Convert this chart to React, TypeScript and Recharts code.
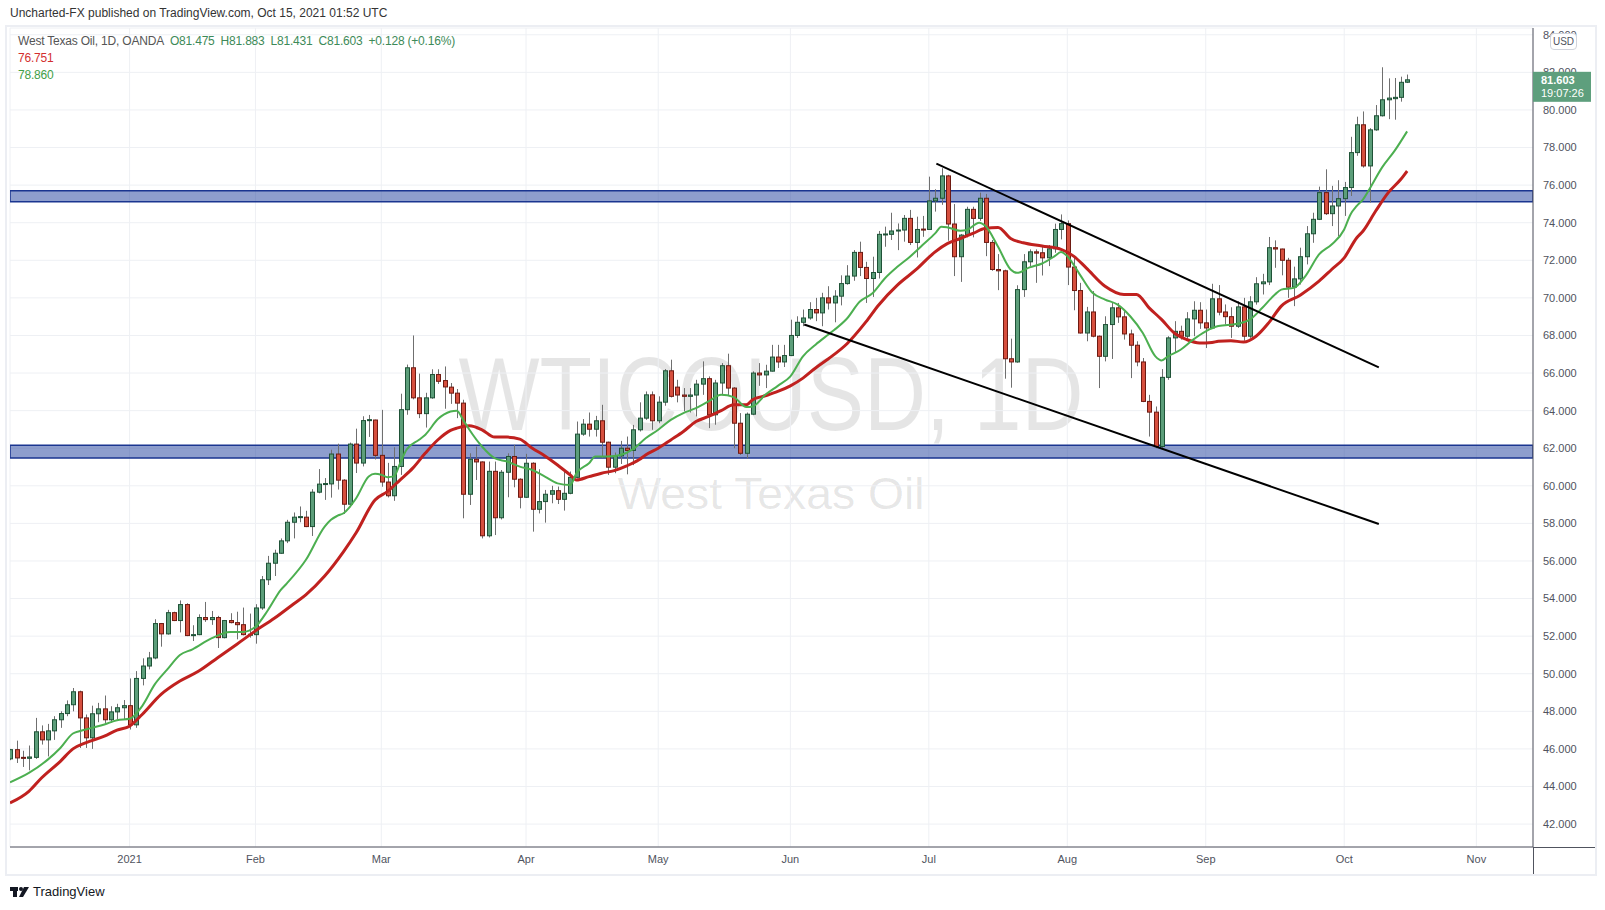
import React from 'react';
import {
  ComposedChart,
  Bar,
  Line,
  XAxis,
  YAxis,
  CartesianGrid,
  ReferenceArea,
  ReferenceLine,
} from 'recharts';

// ---- Daily OHLC (index 0 = first visible bar, early Dec 2020) ----
const opens = [
  45.47, 45.96, 45.55, 45.5, 45.55, 46.91, 46.48, 46.96, 47.55, 47.88,
  48.35, 49.04, 47.65, 46.59, 47.87, 48.13, 47.55, 47.97, 48.19, 48.3,
  47.28, 49.75, 50.41, 50.84, 52.67, 52.12, 53.25, 52.83, 53.68, 52.03,
  52.08, 52.99, 52.88, 52.99, 51.92, 52.83, 52.72, 52.61, 52.08, 52.08,
  53.5, 55.0, 55.88, 56.41, 57.07, 58.06, 58.33, 58.33, 57.83, 59.66,
  60.09, 60.1, 61.69, 60.3, 59.02, 62.22, 61.21, 63.47, 63.5, 61.62,
  60.2, 59.47, 61.03, 64.05, 66.28, 64.68, 63.84, 64.68, 65.92, 65.6,
  65.25, 64.93, 64.4, 59.55, 61.41, 61.27, 57.34, 60.77, 58.3, 60.72,
  61.56, 60.35, 59.39, 61.2, 58.75, 59.16, 59.55, 59.74, 59.28, 59.6,
  60.45, 62.75, 63.28, 63.01, 63.46, 62.32, 60.99, 61.59, 62.0, 61.88,
  62.98, 63.6, 64.84, 63.46, 64.45, 66.12, 65.25, 64.83, 64.76, 64.83,
  65.41, 65.7, 63.78, 65.47, 66.39, 65.2, 63.33, 61.73, 63.81, 66.0,
  65.9, 66.1, 66.85, 66.59, 66.93, 68.0, 68.7, 68.93, 69.38, 69.2,
  70.0, 69.73, 70.09, 70.76, 71.16, 72.42, 71.62, 71.03, 71.35, 73.38,
  73.38, 73.56, 73.61, 74.23, 72.95, 73.66, 73.64, 75.16, 75.3, 76.49,
  73.93, 72.19, 73.34, 74.71, 74.23, 75.3, 72.95, 71.51, 71.44, 66.76,
  66.59, 70.44, 71.92, 72.45, 72.4, 72.13, 72.61, 73.64, 73.95, 71.64,
  70.39, 68.13, 69.25, 67.96, 66.89, 68.58, 69.47, 68.99, 68.08, 67.48,
  66.59, 64.49, 63.92, 62.09, 65.77, 67.87, 68.22, 67.96, 68.88, 69.34,
  68.67, 68.4, 69.95, 69.25, 69.0, 68.49, 69.52, 67.96, 69.79, 70.75,
  70.85, 72.67, 72.6, 72.0, 70.57, 71.01, 72.19, 73.41, 74.18, 75.6,
  74.48, 74.89, 75.28, 75.87, 77.73, 79.21, 77.02, 78.94, 79.69, 80.54,
  80.6, 80.67, 81.475,
];
const highs = [
  46.0, 46.44, 45.9, 46.18, 47.65, 47.25, 47.33, 47.74, 48.0, 48.58,
  49.24, 49.1, 47.83, 48.3, 48.45, 48.84, 48.27, 48.4, 48.6, 49.75,
  50.14, 50.82, 51.16, 52.9, 52.7, 53.4, 53.3, 53.9, 53.75, 52.58,
  53.16, 53.82, 53.34, 53.08, 52.86, 53.22, 53.3, 53.52, 53.2, 53.7,
  55.2, 56.27, 56.6, 57.2, 58.19, 58.58, 58.9, 58.67, 59.82, 60.89,
  60.41, 61.92, 62.24, 60.35, 62.3, 63.04, 63.7, 63.77, 63.52, 64.04,
  61.22, 62.05, 64.9, 66.45, 68.0, 65.97, 64.95, 66.2, 66.2, 66.35,
  65.47, 65.15, 64.58, 61.73, 62.09, 61.3, 61.29, 61.29, 60.84, 61.73,
  62.18, 60.4, 61.7, 61.25, 60.88, 59.78, 60.0, 59.96, 60.76, 60.76,
  63.42, 63.55, 63.9, 63.72, 64.31, 62.35, 61.77, 62.39, 62.62, 63.24,
  64.44, 65.02, 65.02, 64.76, 66.21, 66.71, 65.64, 65.2, 65.2, 65.64,
  66.62, 65.82, 65.64, 66.53, 67.03, 65.25, 63.87, 63.9, 66.09, 66.53,
  66.44, 67.5, 67.5, 67.5, 68.84, 69.02, 69.38, 69.77, 70.0, 70.27,
  70.62, 70.41, 71.2, 71.74, 72.54, 72.99, 71.92, 72.19, 73.56, 73.79,
  74.53, 73.96, 74.41, 74.68, 74.32, 74.36, 76.45, 75.78, 76.9, 76.55,
  74.99, 73.4, 74.85, 74.85, 75.6, 75.53, 73.08, 72.33, 71.5, 67.83,
  70.67, 72.33, 72.58, 72.58, 72.72, 72.81, 73.95, 74.44, 74.12, 72.13,
  70.8, 69.52, 70.36, 68.0, 69.02, 69.73, 69.73, 69.29, 68.31, 67.69,
  66.8, 64.84, 64.22, 66.21, 67.96, 68.76, 68.52, 69.24, 69.82, 69.77,
  69.38, 70.75, 70.68, 69.65, 69.5, 69.82, 70.0, 70.09, 71.1, 71.28,
  73.24, 73.06, 72.62, 72.13, 71.66, 72.67, 73.82, 74.53, 75.92, 76.84,
  75.96, 76.26, 76.17, 78.57, 79.64, 79.92, 79.03, 80.26, 82.27, 81.68,
  81.7, 81.77, 81.883,
];
const lows = [
  45.4, 45.25, 45.04, 44.86, 45.47, 46.23, 45.6, 46.48, 47.12, 47.74,
  48.0, 46.05, 46.05, 46.0, 47.42, 47.38, 47.38, 47.56, 47.56, 47.03,
  47.12, 49.38, 50.23, 50.77, 51.44, 52.08, 52.8, 52.2, 52.0, 51.74,
  52.05, 52.76, 52.6, 51.37, 51.88, 52.68, 51.83, 52.04, 51.92, 51.6,
  53.4, 54.72, 55.2, 56.38, 56.95, 57.2, 58.06, 57.8, 57.33, 59.6,
  59.25, 59.37, 59.8, 58.5, 58.86, 60.68, 61.03, 62.6, 61.4, 59.95,
  59.38, 59.2, 60.58, 63.78, 64.6, 63.6, 63.1, 64.63, 65.42, 64.1,
  64.36, 63.6, 58.27, 58.98, 60.31, 57.2, 57.25, 57.38, 58.21, 59.39,
  59.92, 58.8, 59.35, 57.56, 58.53, 58.04, 59.07, 59.03, 58.68, 59.55,
  60.4, 62.66, 62.62, 62.62, 61.47, 60.58, 60.67, 61.16, 60.61, 61.1,
  62.89, 63.51, 62.98, 63.33, 64.26, 64.7, 64.44, 63.96, 63.9, 63.69,
  64.84, 63.07, 63.25, 64.84, 64.8, 62.0, 61.64, 61.45, 63.76, 65.32,
  65.2, 66.08, 66.27, 66.32, 66.9, 67.87, 68.49, 68.84, 68.76, 68.49,
  69.38, 68.7, 69.6, 70.7, 70.91, 71.16, 69.73, 70.05, 71.03, 72.72,
  73.08, 72.54, 72.99, 72.81, 72.15, 73.25, 73.61, 74.59, 74.95, 73.04,
  71.16, 70.85, 73.22, 73.22, 74.1, 72.22, 71.44, 70.41, 65.7, 65.22,
  66.55, 70.05, 71.69, 70.8, 71.19, 71.69, 72.4, 73.11, 70.68, 69.34,
  68.1, 67.69, 67.9, 65.2, 66.62, 66.75, 68.67, 67.78, 65.73, 66.36,
  64.45, 62.62, 62.0, 62.0, 65.64, 67.07, 67.78, 67.81, 67.96, 68.35,
  67.33, 68.35, 69.07, 68.58, 67.87, 68.4, 67.72, 67.87, 69.64, 70.18,
  70.68, 71.6, 71.2, 70.0, 69.56, 70.71, 71.78, 72.93, 74.14, 74.41,
  73.82, 73.29, 74.36, 75.42, 77.56, 76.93, 75.07, 78.89, 79.65, 79.51,
  79.48, 80.44, 81.431,
];
const closes = [
  45.96, 45.52, 45.5, 45.57, 46.91, 46.48, 46.96, 47.55, 47.88, 48.35,
  49.04, 47.65, 46.59, 47.87, 48.13, 47.55, 47.97, 48.19, 48.3, 47.28,
  49.75, 50.41, 50.84, 52.67, 52.12, 53.25, 52.83, 53.68, 52.03, 52.08,
  52.99, 52.88, 52.99, 51.92, 52.83, 52.72, 52.61, 52.08, 52.1, 53.5,
  55.0, 55.88, 56.41, 57.07, 58.06, 58.33, 58.36, 57.83, 59.66, 60.09,
  60.12, 61.69, 60.3, 59.02, 62.22, 61.21, 63.47, 63.52, 61.62, 60.2,
  59.47, 61.03, 64.05, 66.28, 64.68, 63.84, 64.68, 65.92, 65.56, 65.26,
  64.93, 64.4, 59.55, 61.41, 61.27, 57.34, 60.77, 58.3, 60.72, 61.56,
  60.35, 59.39, 61.2, 58.75, 59.16, 59.55, 59.74, 59.28, 59.6, 60.45,
  62.75, 63.28, 63.01, 63.46, 62.32, 60.99, 61.59, 62.0, 61.88, 62.98,
  63.6, 64.84, 63.46, 64.45, 66.12, 64.76, 64.83, 64.76, 64.83, 65.41,
  65.7, 63.78, 65.47, 66.39, 65.2, 63.33, 61.73, 63.81, 66.0, 65.9,
  66.1, 66.85, 66.59, 66.93, 68.0, 68.7, 68.93, 69.38, 69.2, 70.0,
  69.73, 70.09, 70.76, 71.16, 72.42, 71.62, 71.03, 71.35, 73.38, 73.4,
  73.56, 73.61, 74.23, 72.95, 73.64, 73.61, 75.16, 75.3, 76.49, 73.93,
  72.19, 73.34, 74.71, 74.23, 75.3, 72.95, 71.51, 71.44, 66.76, 66.59,
  70.44, 71.92, 72.45, 72.38, 72.13, 72.61, 73.64, 73.95, 71.64, 70.39,
  68.13, 69.25, 67.96, 66.89, 68.58, 69.47, 68.99, 68.08, 67.48, 66.59,
  64.49, 63.92, 62.09, 65.77, 67.87, 68.22, 67.96, 68.88, 69.34, 68.67,
  68.4, 69.95, 69.24, 69.0, 68.49, 69.52, 67.96, 69.79, 70.75, 70.85,
  72.67, 72.6, 72.0, 70.57, 71.01, 72.19, 73.41, 74.18, 75.6, 74.48,
  74.89, 75.28, 75.87, 77.73, 79.21, 77.02, 78.94, 79.69, 80.54, 80.63,
  80.67, 81.47, 81.603,
];

// ---- Moving averages: [bar index, value] ----
const greenMA: [number, number][] = [
  [0, 44.22], [3, 44.72], [6, 45.43], [8, 46.05], [10, 46.82], [11, 46.94], [13, 47.12], [15, 47.3],
  [17, 47.53], [19, 47.6], [21, 48.28], [23, 49.43], [25, 50.23], [27, 51.0], [29, 51.3], [32, 51.88],
  [35, 52.22], [37, 52.22], [39, 52.5], [41, 53.39], [43, 54.45], [44, 54.81], [47, 56.05], [50, 57.83],
  [51, 58.19], [52, 58.4], [53, 58.54], [55, 59.34], [57, 60.5], [58, 60.64], [59, 60.59], [60, 60.46],
  [61, 60.5], [62, 61.21], [63, 61.92], [65, 62.45], [66, 62.72], [68, 63.55], [70, 63.95], [71, 64.0],
  [72, 63.51], [73, 62.98], [75, 62.09], [77, 61.47], [79, 61.29], [81, 61.02], [83, 60.84], [85, 60.49],
  [87, 60.13], [89, 60.04], [90, 60.67], [92, 61.2], [93, 61.56], [95, 61.56], [97, 61.64], [99, 61.95],
  [101, 62.53], [103, 62.98], [105, 63.51], [107, 63.87], [109, 64.13], [111, 64.49], [113, 64.84],
  [115, 64.72], [117, 64.19], [118, 64.22], [120, 64.84], [122, 65.32], [124, 65.82], [126, 66.89],
  [128, 67.51], [130, 68.04], [131, 68.3], [133, 68.9], [135, 69.79], [137, 70.23], [139, 71.03],
  [141, 71.65], [143, 72.19], [145, 72.81], [147, 73.43], [148, 73.79], [149, 73.75], [151, 73.57],
  [152, 73.61], [154, 74.0], [155, 73.82], [157, 72.72], [159, 71.51], [160, 71.33], [162, 71.62],
  [164, 71.83], [166, 72.22], [167, 72.44], [168, 72.22], [170, 71.24], [172, 70.27], [174, 69.91],
  [176, 69.64], [178, 69.02], [180, 68.13], [182, 66.89], [183, 66.67], [184, 66.89], [186, 67.24],
  [188, 67.78], [190, 68.22], [192, 68.5], [195, 68.62], [197, 68.84], [199, 69.47], [201, 70.18],
  [202, 70.44], [204, 70.53], [206, 71.24], [208, 72.31], [210, 72.84], [212, 73.64], [213, 74.44],
  [214, 74.89], [215, 75.24], [216, 75.78], [218, 76.93], [220, 77.82], [222, 78.86],
];
const redMA: [number, number][] = [
  [0, 43.12], [3, 43.74], [5, 44.45], [8, 45.34], [10, 46.0], [12, 46.32], [15, 46.68], [17, 47.0],
  [19, 47.21], [21, 47.83], [24, 48.9], [27, 49.61], [30, 50.14], [33, 50.85], [36, 51.56], [39, 52.28],
  [42, 52.95], [45, 53.7], [47, 54.2], [50, 55.2], [53, 56.5], [55, 57.5], [58, 59.25], [60, 59.7],
  [62, 60.32], [64, 60.94], [66, 61.74], [68, 62.45], [70, 62.95], [71, 63.07], [73, 63.19], [75, 62.98],
  [77, 62.59], [79, 62.59], [81, 62.48], [83, 62.0], [85, 61.59], [87, 61.11], [89, 60.58], [90, 60.31],
  [92, 60.49], [94, 60.67], [96, 60.81], [98, 61.06], [100, 61.4], [101, 61.64], [103, 62.0],
  [105, 62.44], [107, 62.89], [109, 63.42], [111, 63.69], [113, 64.0], [115, 64.31], [117, 64.31],
  [118, 64.58], [120, 64.79], [122, 65.02], [124, 65.32], [126, 65.73], [128, 66.27], [130, 66.75],
  [133, 67.56], [136, 68.72], [138, 69.61], [141, 70.68], [144, 71.51], [147, 72.45], [149, 72.9],
  [151, 73.16], [153, 73.43], [155, 73.7], [157, 73.75], [159, 73.16], [161, 72.93], [164, 72.76],
  [167, 72.58], [169, 72.22], [171, 71.6], [174, 70.62], [177, 70.18], [179, 70.18], [181, 69.47],
  [183, 68.84], [185, 68.13], [187, 67.78], [189, 67.6], [191, 67.63], [192, 67.69], [194, 67.72],
  [196, 67.65], [198, 67.96], [200, 68.67], [202, 69.56], [205, 70.14], [208, 70.89], [210, 71.51],
  [212, 72.13], [214, 73.2], [215, 73.56], [217, 74.62], [219, 75.6], [221, 76.31], [222, 76.75],
];

// ---- Axis ticks ----
const monthTickIndex = [19, 39, 59, 82, 103, 124, 146, 168, 190, 212, 233];
const monthTickLabel = ['2021', 'Feb', 'Mar', 'Apr', 'May', 'Jun', 'Jul', 'Aug', 'Sep', 'Oct', 'Nov'];
const priceTicks = [42, 44, 46, 48, 50, 52, 54, 56, 58, 60, 62, 64, 66, 68, 70, 72, 74, 76, 78, 80, 82, 84];

// ---- Drawings: horizontal zones and trend channel (bar index / price) ----
const zoneLow = [61.48, 62.16];
const zoneHigh = [75.12, 75.7];
const upperTrend = [{ x: 147.2, y: 77.14 }, { x: 217.5, y: 66.3 }];
const lowerTrend = [{ x: 126.2, y: 68.58 }, { x: 217.5, y: 57.97 }];

const X_DOMAIN: [number, number] = [0, 242];
const Y_DOMAIN: [number, number] = [40.78, 84.36];

const lastClose = closes[closes.length - 1];

const rows: any[] = opens.map((o, i) => ({
  i,
  o,
  h: highs[i],
  l: lows[i],
  c: closes[i],
  g: undefined as number | undefined,
  r: undefined as number | undefined,
}));
greenMA.forEach(([i, v]) => { rows[i].g = v; });
redMA.forEach(([i, v]) => { rows[i].r = v; });

const FONT = '"Liberation Sans", Arial, sans-serif';

const Candle = (props: any) => {
  const { x, y, width, height, payload } = props;
  if (x == null || y == null || !payload) return null;
  const top = Math.min(y, y + height);
  const bot = Math.max(y, y + height);
  const { o, h, l, c } = payload;
  const span = h - l;
  const toY = (p: number) => (span > 0 ? top + ((h - p) / span) * (bot - top) : top);
  const cx = Math.round(x + width / 2) + 0.5;
  const up = c >= o;
  const bTop = toY(Math.max(o, c));
  const bBot = toY(Math.min(o, c));
  const bh = Math.max(1, bBot - bTop);
  return (
    <g>
      <line x1={cx} x2={cx} y1={top} y2={bot} stroke="#6f6f6f" strokeWidth={1} />
      <rect
        x={cx - 2}
        y={bTop}
        width={4}
        height={bh}
        fill={up ? '#5c9e7a' : '#d64f3e'}
        stroke={up ? '#1f5237' : '#6e1a12'}
        strokeWidth={1}
      />
    </g>
  );
};

const PriceTag = (props: any) => {
  const vb = props.viewBox || {};
  if (vb.x == null) return null;
  const x0 = vb.x + (vb.width || 0);
  const y0 = vb.y;
  return (
    <g>
      <rect x={x0} y={y0 - 8} width={58} height={30} fill="#5e9f7d" />
      <text x={x0 + 8} y={y0 + 4} fontSize={11} fontWeight="bold" fill="#fff" fontFamily={FONT}>
        {lastClose.toFixed(3)}
      </text>
      <text x={x0 + 8} y={y0 + 17} fontSize={11} fill="#fff" fontFamily={FONT}>
        19:07:26
      </text>
    </g>
  );
};

const greenTxt = { color: '#3d8a58', marginLeft: 6 };

export default function App() {
  return (
    <div
      style={{
        position: 'absolute',
        left: 0,
        top: 0,
        width: 1605,
        height: 910,
        background: '#fff',
        fontFamily: FONT,
        overflow: 'hidden',
      }}
    >
      {/* header */}
      <div style={{ position: 'absolute', left: 10, top: 6, fontSize: 12, color: '#333' }}>
        Uncharted-FX published on TradingView.com, Oct 15, 2021 01:52 UTC
      </div>

      {/* frame */}
      <div
        style={{
          position: 'absolute',
          left: 5,
          top: 25,
          width: 1592,
          height: 851,
          border: '2px solid #eceef3',
          boxSizing: 'border-box',
        }}
      />

      {/* watermark */}
      <svg width={1605} height={910} style={{ position: 'absolute', left: 0, top: 0 }}>
        <text
          x={771}
          y={430}
          textAnchor="middle"
          fontSize={104}
          fill="#000"
          fillOpacity={0.1}
          textLength={625}
          lengthAdjust="spacingAndGlyphs"
          fontFamily={FONT}
        >
          WTICOUSD, 1D
        </text>
        <text
          x={771}
          y={509}
          textAnchor="middle"
          fontSize={45}
          fill="#000"
          fillOpacity={0.1}
          textLength={307}
          lengthAdjust="spacingAndGlyphs"
          fontFamily={FONT}
        >
          West Texas Oil
        </text>
      </svg>

      <div style={{ position: 'absolute', left: 0, top: 0 }}>
        <ComposedChart
          width={1605}
          height={910}
          data={rows}
          margin={{ top: 28, right: 8, bottom: 35, left: 10 }}
        >
          <CartesianGrid stroke="#eef0f4" strokeWidth={1} />
          <XAxis
            dataKey="i"
            type="number"
            domain={X_DOMAIN}
            allowDataOverflow
            ticks={monthTickIndex}
            tickFormatter={(v: number) => monthTickLabel[monthTickIndex.indexOf(v)] ?? ''}
            tickLine={false}
            tickSize={0}
            tickMargin={8}
            height={28}
            axisLine={{ stroke: '#50535e' }}
            tick={{ fontSize: 11, fill: '#50535e', fontFamily: FONT }}
            interval={0}
          />
          <YAxis
            orientation="right"
            type="number"
            domain={Y_DOMAIN}
            allowDataOverflow
            ticks={priceTicks}
            tickFormatter={(v: number) => v.toFixed(3)}
            tickLine={false}
            tickSize={0}
            tickMargin={10}
            width={64}
            axisLine={{ stroke: '#50535e' }}
            tick={{ fontSize: 11, fill: '#50535e', fontFamily: FONT }}
            interval={0}
          />
          <Bar
            dataKey={(d: any) => [d.l, d.h]}
            barSize={5}
            shape={Candle}
            isAnimationActive={false}
          />
          <Line
            dataKey="r"
            type="monotone"
            stroke="#c0211f"
            strokeWidth={3}
            dot={false}
            connectNulls
            isAnimationActive={false}
          />
          <Line
            dataKey="g"
            type="monotone"
            stroke="#4caf50"
            strokeWidth={2}
            dot={false}
            connectNulls
            isAnimationActive={false}
          />
          <ReferenceArea
            y1={zoneLow[0]}
            y2={zoneLow[1]}
            fill="#1e3d9b"
            fillOpacity={0.5}
            stroke="#1a3590"
            strokeWidth={1.5}
            ifOverflow="hidden"
          />
          <ReferenceArea
            y1={zoneHigh[0]}
            y2={zoneHigh[1]}
            fill="#1e3d9b"
            fillOpacity={0.5}
            stroke="#1a3590"
            strokeWidth={1.5}
            ifOverflow="hidden"
          />
          <ReferenceLine segment={upperTrend} stroke="#000" strokeWidth={2} ifOverflow="visible" />
          <ReferenceLine segment={lowerTrend} stroke="#000" strokeWidth={2} ifOverflow="visible" />
        </ComposedChart>
      </div>

      {/* overlay chart (same scales) carrying the last-price tag above the axis labels */}
      <div style={{ position: 'absolute', left: 0, top: 0 }}>
        <ComposedChart
          width={1605}
          height={910}
          data={rows}
          margin={{ top: 28, right: 72, bottom: 63, left: 10 }}
        >
          <XAxis dataKey="i" type="number" domain={X_DOMAIN} allowDataOverflow hide />
          <YAxis type="number" domain={Y_DOMAIN} allowDataOverflow hide />
          <ReferenceLine
            y={lastClose}
            stroke="none"
            ifOverflow="visible"
            label={(p: any) => <PriceTag {...p} />}
          />
        </ComposedChart>
      </div>

      {/* axis extensions */}
      <svg width={1605} height={910} style={{ position: 'absolute', left: 0, top: 0, pointerEvents: 'none' }}>
        <line x1={1533} x2={1595} y1={847.5} y2={847.5} stroke="#50535e" strokeWidth={1} />
        <line x1={1533.5} x2={1533.5} y1={847} y2={874} stroke="#50535e" strokeWidth={1} />
      </svg>

      {/* legend */}
      <div style={{ position: 'absolute', left: 18, top: 33, fontSize: 12, lineHeight: '17px', letterSpacing: '-0.2px' }}>
        <div>
          <span style={{ color: '#555' }}>West Texas Oil, 1D, OANDA</span>
          <span style={greenTxt}>O81.475</span>
          <span style={greenTxt}>H81.883</span>
          <span style={greenTxt}>L81.431</span>
          <span style={greenTxt}>C81.603</span>
          <span style={greenTxt}>+0.128 (+0.16%)</span>
        </div>
        <div style={{ color: '#d32f2f' }}>76.751</div>
        <div style={{ color: '#43a047' }}>78.860</div>
      </div>

      {/* USD badge */}
      <div
        style={{
          position: 'absolute',
          left: 1550,
          top: 33,
          width: 27,
          height: 17,
          border: '1px solid #d1d4dc',
          borderRadius: 4,
          background: '#fff',
          fontSize: 10,
          color: '#50535e',
          textAlign: 'center',
          lineHeight: '15px',
          boxSizing: 'border-box',
        }}
      >
        USD
      </div>

      {/* footer logo */}
      <div style={{ position: 'absolute', left: 10, top: 884, display: 'flex', alignItems: 'center' }}>
        <svg width={20} height={12}>
          <rect x={0} y={1} width={8} height={4} fill="#131722" />
          <rect x={3} y={1} width={4} height={10} fill="#131722" />
          <circle cx={11} cy={3} r={2} fill="#131722" />
          <polygon points="14,1 19,1 13,11 9,11" fill="#131722" />
        </svg>
        <span style={{ fontSize: 13, color: '#131722', marginLeft: 3 }}>TradingView</span>
      </div>
    </div>
  );
}
